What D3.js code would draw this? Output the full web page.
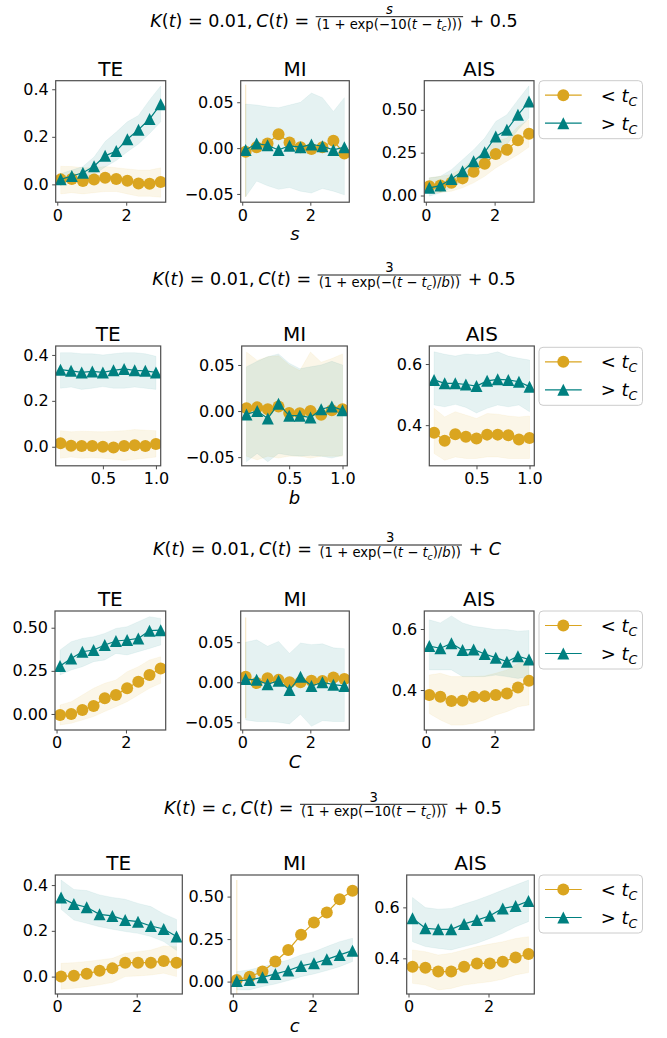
<!DOCTYPE html>
<html><head><meta charset="utf-8">
<script src="https://cdn.jsdelivr.net/npm/d3@7"></script>
<style>body{margin:0;background:#fff}svg{display:block;font-family:"DejaVu Sans",sans-serif}</style>
</head><body><svg id="c" width="667" height="1038"></svg>
<script>
// ---------------- data ----------------
const metrics = ["TE", "MI", "AIS"];
const seriesNames = ["below", "above"]; // < t_C , > t_C
const xS = [0.1, 0.422, 0.744, 1.067, 1.389, 1.711, 2.033, 2.356, 2.678, 3.0];
const xB = [0.1, 0.2, 0.3, 0.4, 0.5, 0.6, 0.7, 0.8, 0.9, 1.0];
const xTicksS = [0, 2];
const xTicksB = [0.5, 1.0];
const xLabels = ["s", "b", "C", "c"];

// Row 1 : s
const r1TE_below   = [0.021,0.023,0.014,0.02,0.028,0.023,0.015,0.004,0.003,0.01];
const r1TE_belowLo = [-0.04,-0.035,-0.04,-0.035,-0.03,-0.03,-0.04,-0.05,-0.05,-0.054];
const r1TE_belowHi = [0.076,0.075,0.07,0.07,0.075,0.07,0.065,0.06,0.06,0.07];
const r1TE_above   = [0.021,0.035,0.049,0.076,0.12,0.14,0.19,0.23,0.275,0.337];
const r1TE_aboveLo = [0.0,0.01,0.025,0.04,0.073,0.1,0.137,0.17,0.214,0.263];
const r1TE_aboveHi = [0.045,0.06,0.075,0.115,0.18,0.22,0.263,0.29,0.355,0.414];
const r1MI_below   = [-0.004,0.001,0.005,0.015,0.006,0.001,-0.001,0.001,0.008,-0.006];
const r1MI_belowLo = [-0.053,null,null,null,null,null,null,null,null,null];
const r1MI_belowHi = [0.069,null,null,null,null,null,null,null,null,null];
const r1MI_above   = [-0.002,0.005,0.003,-0.002,0.0025,0.001,0.004,0.002,-0.002,0.001];
const r1MI_aboveLo = [-0.053,-0.036,-0.041,-0.045,-0.043,-0.047,-0.049,-0.044,-0.047,-0.051];
const r1MI_aboveHi = [0.048,0.047,0.045,0.044,0.047,0.05,0.06,0.055,0.04,0.055];
const r1AIS_below   = [0.054,0.058,0.074,0.1,0.138,0.186,0.242,0.267,0.322,0.36];
const r1AIS_belowLo = [0.016,0.016,0.025,0.045,0.074,0.112,0.161,0.2,0.238,0.283];
const r1AIS_belowHi = [0.103,0.112,0.122,0.161,0.209,0.258,0.316,0.335,0.403,0.442];
const r1AIS_above   = [0.045,0.058,0.097,0.141,0.2,0.252,0.345,0.384,0.471,0.548];
const r1AIS_aboveLo = [-0.004,0.016,0.045,0.083,0.132,0.18,0.258,0.297,0.384,0.452];
const r1AIS_aboveHi = [0.103,0.112,0.151,0.209,0.267,0.335,0.432,0.471,0.558,0.64];

// Row 2 : b
const r2TE_below   = [0.015,0.004,0.003,0.003,0.0,-0.003,0.003,0.007,0.003,0.012];
const r2TE_belowLo = [-0.05,-0.045,-0.05,-0.048,-0.05,-0.055,-0.06,-0.055,-0.05,-0.045];
const r2TE_belowHi = [0.07,0.065,0.068,0.066,0.065,0.068,0.07,0.075,0.072,0.07];
const r2TE_above   = [0.336,0.331,0.324,0.328,0.324,0.333,0.339,0.333,0.331,0.324];
const r2TE_aboveLo = [0.255,0.26,0.25,0.255,0.262,0.255,0.255,0.26,0.255,0.25];
const r2TE_aboveHi = [0.41,0.41,0.405,0.405,0.4,0.405,0.41,0.41,0.405,0.394];
const r2MI_below   = [0.003,0.004,0.002,0.005,-0.002,-0.0025,0.0,-0.004,0.001,0.002];
const r2MI_belowLo = [-0.049,-0.053,-0.049,-0.051,-0.049,-0.049,-0.051,-0.049,-0.049,-0.049];
const r2MI_belowHi = [0.064,0.055,0.059,0.06,0.05,0.044,0.064,0.053,0.057,0.062];
const r2MI_above   = [-0.0036,0.0,-0.008,0.008,-0.005,-0.005,-0.007,0.002,0.005,0.001];
const r2MI_aboveLo = [-0.055,-0.046,-0.055,-0.046,-0.048,-0.049,-0.048,-0.049,-0.051,-0.048];
const r2MI_aboveHi = [0.048,0.054,0.059,0.062,0.052,0.046,0.048,0.05,0.054,0.05];
const r2AIS_below   = [0.375,0.349,0.37,0.362,0.356,0.369,0.369,0.367,0.353,0.358];
const r2AIS_belowLo = [0.307,0.285,0.296,0.291,0.291,0.296,0.296,0.291,0.291,0.291];
const r2AIS_belowHi = [0.455,0.427,0.444,0.433,0.422,0.438,0.436,0.43,0.427,0.43];
const r2AIS_above   = [0.548,0.537,0.537,0.533,0.528,0.545,0.55,0.548,0.542,0.526];
const r2AIS_aboveLo = [0.466,0.46,0.468,0.458,0.44,0.455,0.466,0.46,0.466,0.444];
const r2AIS_aboveHi = [0.64,0.632,0.626,0.633,0.63,0.632,0.64,0.626,0.619,0.613];

// Row 3 : C
const r3TE_below   = [-0.006,0.0,0.023,0.046,0.091,0.11,0.149,0.187,0.226,0.264];
const r3TE_belowLo = [-0.064,-0.054,-0.035,-0.015,0.014,0.042,0.071,0.11,0.149,0.178];
const r3TE_belowHi = [0.052,0.071,0.11,0.149,0.178,0.197,0.245,0.274,0.313,0.332];
const r3TE_above   = [0.278,0.322,0.361,0.371,0.4,0.423,0.429,0.438,0.483,0.486];
const r3TE_aboveLo = [0.226,0.255,0.274,0.303,0.313,0.351,0.342,0.361,0.38,0.4];
const r3TE_aboveHi = [0.371,0.419,0.438,0.448,0.467,0.496,0.506,0.535,0.564,0.554];
const r3MI_below   = [0.007,-0.001,0.005,0.003,0.0,0.0,0.002,0.0017,0.006,0.004];
const r3MI_belowLo = [-0.045,null,null,null,null,null,null,null,null,null];
const r3MI_belowHi = [0.081,null,null,null,null,null,null,null,null,null];
const r3MI_above   = [0.004,0.003,-0.0025,0.002,-0.0096,0.007,-0.0046,0.0,-0.003,-0.0046];
const r3MI_aboveLo = [-0.047,-0.049,-0.049,-0.05,-0.052,-0.04,-0.055,-0.048,-0.049,-0.049];
const r3MI_aboveHi = [0.05,0.053,0.045,0.051,0.036,0.049,0.047,0.048,0.043,0.042];
const r3AIS_below   = [0.384,0.378,0.364,0.365,0.378,0.38,0.384,0.389,0.408,0.43];
const r3AIS_belowLo = [0.323,0.302,0.285,0.285,0.291,0.302,0.318,0.329,0.345,0.351];
const r3AIS_belowHi = [0.449,0.455,0.444,0.444,0.444,0.446,0.455,0.466,0.487,0.498];
const r3AIS_above   = [0.544,0.537,0.553,0.531,0.533,0.518,0.506,0.493,0.511,0.5];
const r3AIS_aboveLo = [0.466,0.466,0.466,0.444,0.444,0.444,0.449,0.444,0.438,0.444];
const r3AIS_aboveHi = [0.63,0.62,0.643,0.62,0.609,0.604,0.598,0.598,0.593,0.595];

// Row 4 : c
const r4TE_below   = [0.0,0.004,0.012,0.026,0.036,0.061,0.061,0.061,0.068,0.061];
const r4TE_belowLo = [-0.055,-0.051,-0.044,-0.036,-0.026,0.0,0.003,0.007,0.015,0.0];
const r4TE_belowHi = [0.058,0.061,0.066,0.073,0.08,0.102,0.109,0.116,0.134,0.131];
const r4TE_above   = [0.346,0.317,0.303,0.272,0.265,0.247,0.24,0.221,0.208,0.175];
const r4TE_aboveLo = [0.294,0.247,0.233,0.218,0.207,0.197,0.189,0.175,0.153,0.114];
const r4TE_aboveHi = [0.422,0.381,0.376,0.357,0.346,0.338,0.32,0.306,0.274,0.25];
const r4MI_below   = [0.01,0.029,0.059,0.118,0.186,0.275,0.347,0.406,0.484,0.535];
const r4MI_belowLo = [-0.1,null,null,null,null,null,null,null,null,null];
const r4MI_belowHi = [0.598,null,null,null,null,null,null,null,null,null];
const r4MI_above   = [0.004,0.01,0.025,0.045,0.065,0.092,0.108,0.131,0.157,0.182];
const r4MI_aboveLo = [-0.049,-0.049,-0.029,-0.014,0.006,0.029,0.045,0.065,0.088,0.118];
const r4MI_aboveHi = [0.059,0.069,0.088,0.108,0.127,0.157,0.176,0.206,0.235,0.255];
const r4AIS_below   = [0.367,0.363,0.348,0.348,0.367,0.38,0.38,0.387,0.403,0.417];
const r4AIS_belowLo = [0.302,0.295,0.276,0.282,0.295,0.302,0.308,0.318,0.335,0.344];
const r4AIS_belowHi = [0.433,0.426,0.413,0.42,0.433,0.446,0.456,0.465,0.478,0.485];
const r4AIS_above   = [0.557,0.518,0.514,0.514,0.535,0.55,0.567,0.596,0.605,0.625];
const r4AIS_aboveLo = [0.465,0.446,0.439,0.433,0.446,0.459,0.478,0.498,0.524,0.544];
const r4AIS_aboveHi = [0.639,0.599,0.593,0.596,0.613,0.629,0.648,0.668,0.688,0.707];

// y tick values per panel
const r1YTicks = [[0,0.2,0.4],[-0.05,0,0.05],[0,0.25,0.5]];
const r2YTicks = [[0,0.2,0.4],[-0.05,0,0.05],[0.4,0.6]];
const r3YTicks = [[0,0.25,0.5],[-0.05,0,0.05],[0.4,0.6]];
const r4YTicks = [[0,0.2,0.4],[0,0.25,0.5],[0.4,0.6]];

// ---------------- layout / style ----------------
const ORANGE = "#DAA520", TEAL = "#008080";
const FONT = "DejaVu Sans";
const svg = d3.select("#c");
const defs = svg.append("defs");
const TH = "\u2009"; // thin space

const rows = [
  { xs: xS, xDom: [-0.045, 3.145], xTicks: xTicksS, xFmt: d3.format("d"), yTicks: r1YTicks,
    yFmts: [d3.format(".1f"), d3.format(".2f"), d3.format(".2f")],
    yDoms: [[-0.075,0.436],[-0.059,0.0735],[-0.039,0.67]],
    boxes: [[55.7,165.7],[240.7,349.3],[424.3,534]], top: 80.7, bottom: 202.2,
    data: [[r1TE_below,r1TE_belowLo,r1TE_belowHi,r1TE_above,r1TE_aboveLo,r1TE_aboveHi],
           [r1MI_below,r1MI_belowLo,r1MI_belowHi,r1MI_above,r1MI_aboveLo,r1MI_aboveHi],
           [r1AIS_below,r1AIS_belowLo,r1AIS_belowHi,r1AIS_above,r1AIS_aboveLo,r1AIS_aboveHi]],
    title: { base: 26.7, cx: 334, pre: [["K","i"],["(",""],["t","i"],[") = 0.01,"+TH,""],["C","i"],["(",""],["t","i"],[") =",""]],
             num: [["s","i"]], den: "exp10", post: [["+ 0.5",""]] } },
  { xs: xB, xDom: [0.055, 1.045], xTicks: xTicksB, xFmt: d3.format(".1f"), yTicks: r2YTicks,
    yFmts: [d3.format(".1f"), d3.format(".2f"), d3.format(".1f")],
    yDoms: [[-0.083,0.439],[-0.0594,0.0706],[0.267,0.659]],
    boxes: [[55.7,160.7],[241.7,347.3],[429.3,534.3]], top: 346, bottom: 465.8,
    data: [[r2TE_below,r2TE_belowLo,r2TE_belowHi,r2TE_above,r2TE_aboveLo,r2TE_aboveHi],
           [r2MI_below,r2MI_belowLo,r2MI_belowHi,r2MI_above,r2MI_aboveLo,r2MI_aboveHi],
           [r2AIS_below,r2AIS_belowLo,r2AIS_belowHi,r2AIS_above,r2AIS_aboveLo,r2AIS_aboveHi]],
    title: { base: 285, cx: 334, pre: [["K","i"],["(",""],["t","i"],[") = 0.01,"+TH,""],["C","i"],["(",""],["t","i"],[") =",""]],
             num: [["3",""]], den: "expb", post: [["+ 0.5",""]] } },
  { xs: xS, xDom: [-0.045, 3.145], xTicks: xTicksS, xFmt: d3.format("d"), yTicks: r3YTicks,
    yFmts: [d3.format(".2f"), d3.format(".2f"), d3.format(".1f")],
    yDoms: [[-0.093,0.597],[-0.0596,0.089],[0.269,0.659]],
    boxes: [[55,165.7],[240.7,349.3],[424.3,534]], top: 611, bottom: 730,
    data: [[r3TE_below,r3TE_belowLo,r3TE_belowHi,r3TE_above,r3TE_aboveLo,r3TE_aboveHi],
           [r3MI_below,r3MI_belowLo,r3MI_belowHi,r3MI_above,r3MI_aboveLo,r3MI_aboveHi],
           [r3AIS_below,r3AIS_belowLo,r3AIS_belowHi,r3AIS_above,r3AIS_aboveLo,r3AIS_aboveHi]],
    title: { base: 555, cx: 327, pre: [["K","i"],["(",""],["t","i"],[") = 0.01,"+TH,""],["C","i"],["(",""],["t","i"],[") =",""]],
             num: [["3",""]], den: "expb", post: [["+ ",""],["C","i"]] } },
  { xs: xS, xDom: [-0.045, 3.145], xTicks: xTicksS, xFmt: d3.format("d"), yTicks: r4YTicks,
    yFmts: [d3.format(".1f"), d3.format(".2f"), d3.format(".1f")],
    yDoms: [[-0.076,0.444],[-0.073,0.627],[0.26,0.727]],
    boxes: [[55.3,182.3],[231,358.3],[406.7,534.3]], top: 875, bottom: 994,
    data: [[r4TE_below,r4TE_belowLo,r4TE_belowHi,r4TE_above,r4TE_aboveLo,r4TE_aboveHi],
           [r4MI_below,r4MI_belowLo,r4MI_belowHi,r4MI_above,r4MI_aboveLo,r4MI_aboveHi],
           [r4AIS_below,r4AIS_belowLo,r4AIS_belowHi,r4AIS_above,r4AIS_aboveLo,r4AIS_aboveHi]],
    title: { base: 814.3, cx: 333, pre: [["K","i"],["(",""],["t","i"],[") = ",""],["c","i"],[","+TH,""],["C","i"],["(",""],["t","i"],[") =",""]],
             num: [["3",""]], den: "exp10", post: [["+ 0.5",""]] } }
];

// ---------------- helpers ----------------
function triPath(s) { return `M0,${-s}L${-s},${s}L${s},${s}Z`; }

function addSegs(textSel, segs) {
  segs.forEach(([t, st]) => {
    const ts = textSel.append("tspan").text(t);
    if (st === "i") ts.attr("font-style", "italic");
  });
}

function denominator(textSel, kind, fs) {
  const sub = fs * 0.7;
  const a = (t, it) => { const s = textSel.append("tspan").text(t); if (it) s.attr("font-style","italic"); return s; };
  a("(1 + exp(−" + (kind === "exp10" ? "10(" : "("), false);
  a("t", true); a(" − ", false); a("t", true);
  textSel.append("tspan").text("c").attr("font-style","italic").attr("font-size", sub).attr("dy", fs*0.22);
  const close = textSel.append("tspan").attr("dy", -fs*0.22);
  if (kind === "exp10") { close.text(")))"); }
  else { close.text(")/"); a("b", true); a("))", false); }
}

function drawSuptitle(row) {
  const T = row.title, fs = 17.5, fsS = 13.2;
  const g = svg.append("g").attr("font-family", FONT).attr("fill", "#000");
  const pre = g.append("text").attr("font-size", fs).attr("y", T.base).attr("x", 0);
  addSegs(pre, T.pre);
  const num = g.append("text").attr("font-size", fsS).attr("text-anchor", "middle");
  addSegs(num, T.num);
  const den = g.append("text").attr("font-size", fsS).attr("text-anchor", "middle");
  denominator(den, T.den, fsS);
  const post = g.append("text").attr("font-size", fs).attr("y", T.base);
  addSegs(post, T.post);
  const wPre = pre.node().getComputedTextLength();
  const wNum = num.node().getComputedTextLength();
  const wDen = den.node().getComputedTextLength();
  const wPost = post.node().getComputedTextLength();
  const gap = 6.5, wFrac = Math.max(wNum, wDen) + 2;
  const total = wPre + gap + wFrac + gap + wPost;
  const x0 = T.cx - total / 2;
  pre.attr("x", x0);
  const fx = x0 + wPre + gap;
  const barY = T.base - 10;
  g.append("line").attr("x1", fx).attr("x2", fx + wFrac).attr("y1", barY).attr("y2", barY)
    .attr("stroke", "#000").attr("stroke-width", 0.9);
  num.attr("x", fx + wFrac / 2).attr("y", barY - 2.6);
  den.attr("x", fx + wFrac / 2).attr("y", barY + 11.8);
  post.attr("x", fx + wFrac + gap);
}

let clipId = 0;
function drawPanel(row, pi) {
  const [x0, x1] = row.boxes[pi];
  const y0 = row.top, y1 = row.bottom;
  const x = d3.scaleLinear().domain(row.xDom).range([x0, x1]);
  const y = d3.scaleLinear().domain(row.yDoms[pi]).range([y1, y0]);
  const id = "clip" + (clipId++);
  defs.append("clipPath").attr("id", id).append("rect")
    .attr("x", x0).attr("y", y0).attr("width", x1 - x0).attr("height", y1 - y0);
  const g = svg.append("g").attr("clip-path", `url(#${id})`);
  const D = row.data[pi];
  const series = [
    { v: D[0], lo: D[1], hi: D[2], color: ORANGE, marker: "circle" },
    { v: D[3], lo: D[4], hi: D[5], color: TEAL, marker: "tri" }
  ];
  series.forEach(s => {
    const pts = row.xs.map((xv, i) => ({ x: xv, lo: s.lo[i], hi: s.hi[i] }));
    const def = pts.filter(p => p.lo != null && p.hi != null);
    if (def.length > 1) {
      const area = d3.area().x(p => x(p.x)).y0(p => y(p.lo)).y1(p => y(p.hi));
      g.append("path").attr("d", area(def)).attr("fill", s.color).attr("fill-opacity", 0.1)
        .attr("stroke", s.color).attr("stroke-opacity", 0.06).attr("stroke-width", 1);
    } else if (def.length === 1) {
      g.append("line").attr("x1", x(def[0].x)).attr("x2", x(def[0].x))
        .attr("y1", y(def[0].lo)).attr("y2", y(def[0].hi))
        .attr("stroke", s.color).attr("stroke-opacity", 0.25).attr("stroke-width", 1.2);
    }
  });
  series.forEach(s => {
    const pts = row.xs.map((xv, i) => ({ x: xv, v: s.v[i] }));
    const line = d3.line().x(p => x(p.x)).y(p => y(p.v));
    g.append("path").attr("d", line(pts)).attr("fill", "none").attr("stroke", s.color).attr("stroke-width", 1.2);
    pts.forEach(p => {
      if (s.marker === "circle") {
        g.append("circle").attr("cx", x(p.x)).attr("cy", y(p.v)).attr("r", 6).attr("fill", s.color);
      } else {
        g.append("path").attr("d", triPath(6)).attr("transform", `translate(${x(p.x)},${y(p.v)})`).attr("fill", s.color);
      }
    });
  });
  svg.append("rect").attr("x", x0).attr("y", y0).attr("width", x1 - x0).attr("height", y1 - y0)
    .attr("fill", "none").attr("stroke", "#4d4d4d").attr("stroke-width", 1.2);
  const ax = svg.append("g").attr("transform", `translate(0,${y1})`)
    .call(d3.axisBottom(x).tickValues(row.xTicks).tickFormat(row.xFmt).tickSize(3.5).tickPadding(3.5));
  const ay = svg.append("g").attr("transform", `translate(${x0},0)`)
    .call(d3.axisLeft(y).tickValues(row.yTicks[pi]).tickFormat(row.yFmts[pi]).tickSize(3.5).tickPadding(3.5));
  [ax, ay].forEach(a => {
    a.select(".domain").remove();
    a.selectAll("line").attr("stroke", "#4d4d4d");
    a.selectAll("text").attr("font-size", 16).attr("font-family", FONT).attr("fill", "#000");
  });
  svg.append("text").attr("x", (x0 + x1) / 2).attr("y", y0 - 5).attr("text-anchor", "middle")
    .attr("font-size", 20).attr("font-family", FONT).text(metrics[pi]);
  return { x, y };
}

function drawLegend(top) {
  const lx0 = 539, lx1 = 642.5, h = 58;
  const g = svg.append("g").attr("font-family", FONT);
  g.append("rect").attr("x", lx0).attr("y", top).attr("width", lx1 - lx0).attr("height", h)
    .attr("rx", 4).attr("fill", "#fff").attr("fill-opacity", 0.8).attr("stroke", "#cccccc").attr("stroke-width", 1);
  const entries = [{ c: ORANGE, m: "circle", sym: "<" }, { c: TEAL, m: "tri", sym: ">" }];
  entries.forEach((e, i) => {
    const cy = top + 14.5 + i * 28;
    g.append("line").attr("x1", 545).attr("x2", 581.7).attr("y1", cy).attr("y2", cy)
      .attr("stroke", e.c).attr("stroke-width", 1.2);
    if (e.m === "circle") g.append("circle").attr("cx", 563.3).attr("cy", cy).attr("r", 6).attr("fill", e.c);
    else g.append("path").attr("d", triPath(6)).attr("transform", `translate(563.3,${cy})`).attr("fill", e.c);
    const t = g.append("text").attr("x", 600.7).attr("y", cy + 6.5).attr("font-size", 18);
    t.append("tspan").text(e.sym);
    t.append("tspan").text(" t").attr("font-style", "italic");
    t.append("tspan").text("C").attr("font-style", "italic").attr("font-size", 12.6).attr("dy", 4);
  });
}

// ---------------- draw ----------------
rows.forEach((row, ri) => {
  drawSuptitle(row);
  [0, 1, 2].forEach(pi => drawPanel(row, pi));
  const [mx0, mx1] = row.boxes[1];
  svg.append("text").attr("x", (mx0 + mx1) / 2).attr("y", row.bottom + 38).attr("text-anchor", "middle")
    .attr("font-size", 18).attr("font-style", "italic").attr("font-family", FONT).text(xLabels[ri]);
  drawLegend(row.top + (ri === 1 ? 1.3 : 0));
});
</script>
</body></html>
